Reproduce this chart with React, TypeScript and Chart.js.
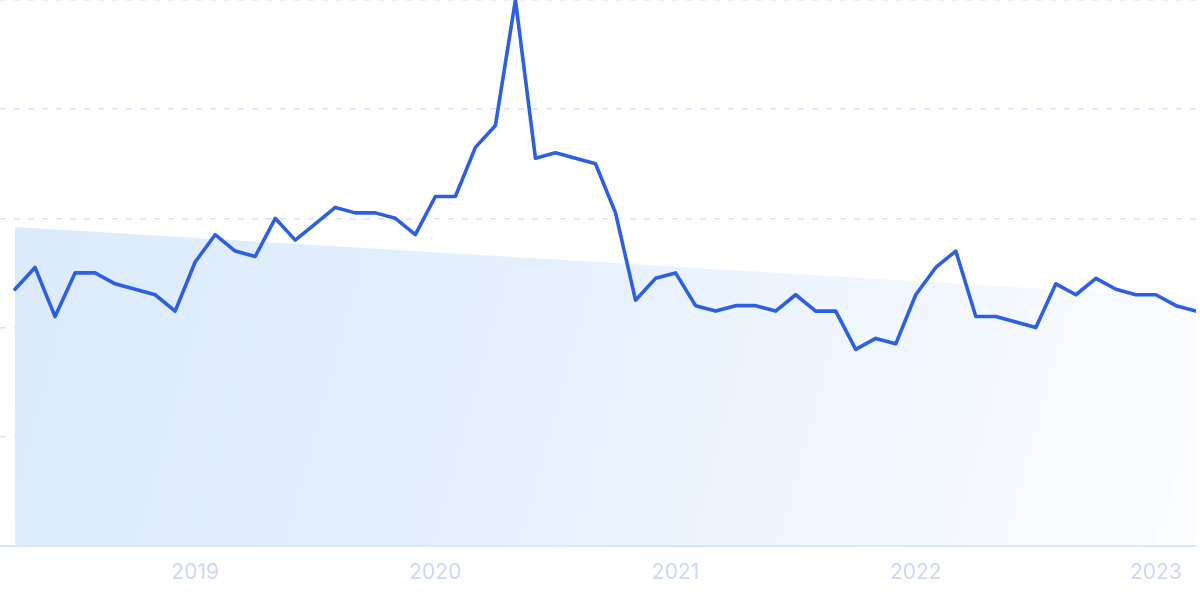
import React, { useEffect, useRef } from "react";
import { Chart, registerables } from "chart.js";

Chart.register(...registerables);

// Monthly series, Apr 2018 .. Mar 2023 (index 0 = Apr 2018)
const interest: number[] = [
  47, 51, 42, 50, 50, 48, 47, 46, 43, 52, 57, 54,
  53, 60, 56, 59, 62, 61, 61, 60, 57, 64, 64, 73,
  77, 100, 71, 72, 71, 70, 61, 45, 49, 50, 44, 43,
  44, 44, 43, 46, 43, 43, 36, 38, 37, 46, 51, 54,
  42, 42, 41, 40, 48, 46, 49, 47, 46, 46, 44, 43,
];

// Trend line endpoints (first and last month)
const trendIndex: number[] = [0, 59];
const trendValues: number[] = [58.4, 45.4];

// X axis year ticks (month index of January)
const yearTickIndex: number[] = [9, 21, 33, 45, 57];
const yearLabels: string[] = ["2019", "2020", "2021", "2022", "2023"];

// Y axis grid values
const yTicks: number[] = [0, 20, 40, 60, 80, 100];

export default function App() {
  const canvasRef = useRef<HTMLCanvasElement | null>(null);

  useEffect(() => {
    document.body.style.margin = "0";
    const canvas = canvasRef.current;
    if (!canvas) return;

    const chart = new Chart(canvas, {
      type: "line",
      data: {
        datasets: [
          {
            label: "Interest",
            data: interest.map((v, i) => ({ x: i, y: v })),
            borderColor: "#2d5fe2",
            borderWidth: 3.6,
            pointRadius: 0,
            tension: 0,
            fill: false,
            order: 1,
            borderJoinStyle: "round",
            borderCapStyle: "round",
          },
          {
            label: "Trend",
            data: trendIndex.map((x, i) => ({ x, y: trendValues[i] })),
            borderWidth: 0,
            borderColor: "rgba(0,0,0,0)",
            pointRadius: 0,
            fill: "origin",
            order: 2,
            backgroundColor: (ctx: any) => {
              const { chart } = ctx;
              const area = chart.chartArea;
              if (!area) return "rgba(220,234,251,1)";
              const g = chart.ctx.createLinearGradient(
                area.left,
                area.top + 220,
                area.right,
                area.bottom
              );
              g.addColorStop(0, "rgba(219,234,251,1)");
              g.addColorStop(0.5, "rgba(232,241,253,1)");
              g.addColorStop(1, "rgba(252,253,255,1)");
              return g;
            },
          },
        ],
      },
      options: {
        animation: false,
        responsive: false,
        layout: { padding: { left: 0, right: 4, top: 0, bottom: 0 } },
        plugins: {
          legend: { display: false },
          tooltip: { enabled: false },
        },
        scales: {
          x: {
            type: "linear",
            min: -0.75,
            max: 59,
            grid: { display: false, drawTicks: false },
            border: { display: true, color: "#d6e4fb", width: 2 },
            afterBuildTicks: (scale: any) => {
              scale.ticks = yearTickIndex.map((v) => ({ value: v }));
            },
            ticks: {
              autoSkip: false,
              maxRotation: 0,
              padding: 14,
              color: "#ccd7f5",
              font: { family: "Inter", size: 21 },
              callback: (value: any) => {
                const idx = yearTickIndex.indexOf(Number(value));
                return idx >= 0 ? yearLabels[idx] : "";
              },
            },
          },
          y: {
            min: 0,
            max: 100,
            afterBuildTicks: (scale: any) => {
              scale.ticks = yTicks.map((v) => ({ value: v }));
            },
            grid: {
              drawTicks: false,
              color: "#d5e3fb",
              lineWidth: 1.5,
            },
            border: { display: false, dash: [6, 8] },
            ticks: { display: false },
          },
        },
      } as any,
    });

    return () => {
      chart.destroy();
    };
  }, []);

  return (
    <div style={{ width: 1200, height: 599 }}>
      <canvas ref={canvasRef} width={1200} height={599} />
    </div>
  );
}
